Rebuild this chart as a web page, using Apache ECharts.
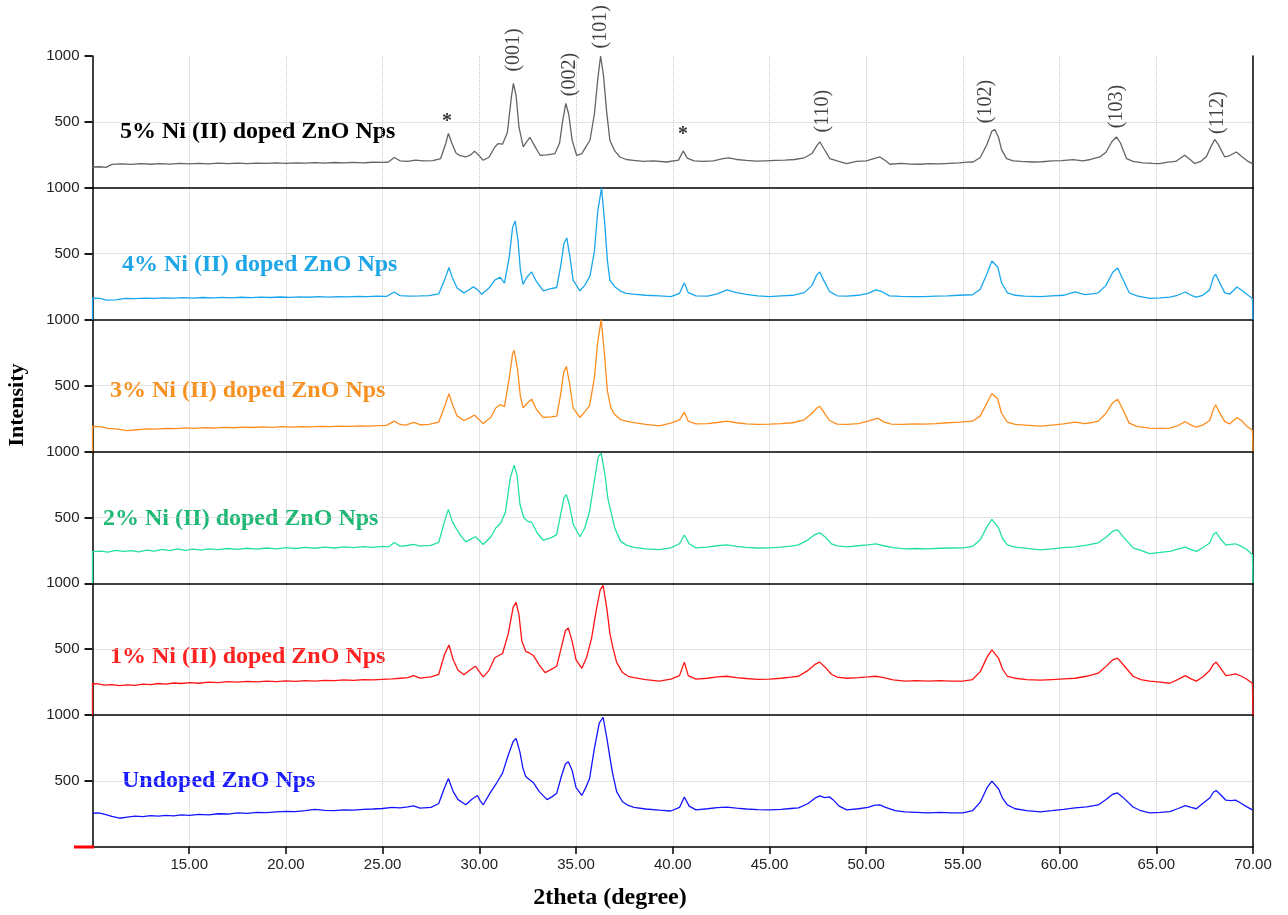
<!DOCTYPE html>
<html>
<head>
<meta charset="utf-8">
<script src="https://cdn.jsdelivr.net/npm/echarts@6/dist/echarts.min.js"></script>
<style>html,body{margin:0;padding:0;background:#fff}#chart{width:1288px;height:915px}</style>
</head>
<body>
<div id="chart"></div>
<script>
// ---------- data (2theta, intensity) ----------
const ni5 = [[10,158],[10.4,160],[10.7,155],[11,178],[11.5,182],[12,178],[12.5,183],[13,179],[13.5,184],[14,180],[14.5,185],[15,181],[15.5,186],[16,182],[16.5,187],[17,183],[17.5,188],[18,184],[18.5,188],[19,185],[19.5,189],[20,186],[20.5,190],[21,187],[21.5,191],[22,188],[22.5,192],[23,189],[23.5,193],[24,190],[24.5,194],[25,193],[25.3,196],[25.6,230],[25.9,205],[26.3,200],[26.7,210],[27.1,204],[27.6,206],[28,222],[28.25,330],[28.4,412],[28.6,330],[28.8,262],[29,244],[29.3,234],[29.55,250],[29.75,278],[29.95,250],[30.2,209],[30.5,232],[30.8,310],[30.98,336],[31.2,331],[31.45,420],[31.65,680],[31.76,792],[31.9,700],[32.05,460],[32.27,310],[32.45,350],[32.62,382],[32.85,320],[33.14,247],[33.5,250],[33.91,260],[34.15,340],[34.3,500],[34.47,640],[34.62,560],[34.8,360],[35.03,247],[35.3,260],[35.55,320],[35.72,361],[35.95,560],[36.12,820],[36.27,1000],[36.42,850],[36.58,580],[36.75,361],[37,280],[37.27,234],[37.6,215],[37.96,209],[38.5,200],[39,205],[39.68,196],[40.3,210],[40.54,280],[40.75,225],[41.1,205],[41.6,200],[42.1,205],[42.6,222],[42.9,228],[43.3,215],[43.8,208],[44.3,202],[44.8,205],[45.3,208],[45.8,210],[46.3,215],[46.8,228],[47.2,260],[47.45,320],[47.61,348],[47.8,300],[48.12,222],[48.5,205],[48.99,184],[49.5,200],[50,205],[50.4,222],[50.71,234],[51,205],[51.23,179],[51.8,185],[52.3,180],[52.78,179],[53.3,184],[53.8,182],[54.3,186],[54.8,190],[55.2,195],[55.53,196],[55.9,230],[56.25,330],[56.5,430],[56.65,442],[56.85,380],[57,290],[57.26,222],[57.6,205],[58,200],[58.63,196],[59.1,198],[59.6,204],[60.1,206],[60.7,214],[61.2,205],[61.6,215],[62.08,234],[62.4,270],[62.7,350],[62.94,386],[63.15,340],[63.46,222],[63.8,200],[64.3,190],[64.8,186],[65.18,184],[65.6,195],[66,200],[66.47,247],[66.75,215],[66.98,184],[67.3,200],[67.6,240],[67.85,320],[68.02,367],[68.2,330],[68.54,234],[68.8,245],[69.14,272],[69.4,240],[69.7,205],[69.97,184]];

const ni4 = [[10,0],[10,164],[10.4,162],[10.7,148],[11.2,150],[11.7,162],[12.2,160],[12.7,164],[13.2,161],[13.7,166],[14.2,163],[14.7,167],[15.2,164],[15.7,168],[16.2,165],[16.7,169],[17.2,166],[17.7,170],[18.2,167],[18.7,171],[19.2,168],[19.7,172],[20.2,169],[20.7,173],[21.2,170],[21.7,174],[22.2,171],[22.7,175],[23.2,173],[23.7,177],[24.2,174],[24.7,178],[25.2,176],[25.6,210],[25.9,182],[26.4,178],[26.93,180],[27.4,182],[27.9,195],[28.2,300],[28.43,395],[28.6,320],[28.85,240],[29.2,203],[29.45,225],[29.69,250],[29.9,228],[30.12,193],[30.5,240],[30.8,300],[31.07,322],[31.3,277],[31.55,480],[31.72,700],[31.85,749],[32,600],[32.12,380],[32.26,267],[32.45,320],[32.7,363],[32.95,290],[33.31,219],[33.7,235],[34,244],[34.2,400],[34.38,580],[34.52,620],[34.68,480],[34.85,300],[35.2,219],[35.45,260],[35.72,331],[35.95,520],[36.12,820],[36.32,1000],[36.5,700],[36.62,450],[36.75,299],[37,250],[37.27,219],[37.6,200],[37.96,193],[38.6,185],[39.34,180],[39.9,174],[40.35,200],[40.6,279],[40.8,205],[41.2,180],[41.8,178],[42.3,195],[42.8,226],[43.3,205],[43.8,192],[44.4,180],[45,174],[45.6,180],[46.2,185],[46.8,205],[47.2,260],[47.45,340],[47.6,362],[47.8,300],[48.1,215],[48.5,181],[49,178],[49.6,185],[50.1,200],[50.5,226],[50.85,210],[51.2,180],[51.8,176],[52.4,174],[53,174],[53.6,178],[54.2,180],[54.8,185],[55.5,189],[55.9,230],[56.25,350],[56.5,445],[56.6,460],[56.8,400],[57,280],[57.3,204],[57.7,185],[58.2,178],[59,174],[59.6,180],[60.2,185],[60.8,211],[61.3,190],[61.7,195],[62,204],[62.4,260],[62.75,360],[63,392],[63.2,330],[63.6,204],[64,180],[64.66,161],[65.2,165],[65.7,171],[66.1,185],[66.5,210],[66.8,185],[67.07,171],[67.4,185],[67.76,226],[67.95,320],[68.07,345],[68.25,290],[68.54,203],[68.8,194],[69.17,248],[69.4,225],[69.66,194],[69.97,161],[70,0]];

const ni3 = [[10,0],[10,190],[10.4,188],[10.8,176],[11.3,170],[11.8,158],[12.3,165],[12.8,172],[13.3,170],[13.8,176],[14.3,174],[14.8,179],[15.3,176],[15.8,181],[16.3,178],[16.8,183],[17.3,180],[17.8,185],[18.3,182],[18.8,186],[19.3,183],[19.8,188],[20.3,185],[20.8,189],[21.3,186],[21.8,191],[22.3,188],[22.8,192],[23.3,190],[23.8,194],[24.3,192],[24.8,196],[25.2,198],[25.6,230],[25.9,205],[26.2,200],[26.6,220],[26.93,203],[27.4,205],[27.9,222],[28.2,340],[28.43,439],[28.6,360],[28.85,270],[29.2,235],[29.5,255],[29.75,277],[30,240],[30.2,213],[30.6,260],[30.85,330],[31.07,355],[31.3,340],[31.55,560],[31.72,740],[31.8,768],[31.98,620],[32.12,420],[32.26,332],[32.5,370],[32.7,397],[32.95,320],[33.3,258],[33.7,262],[34,268],[34.2,430],[34.36,600],[34.5,645],[34.66,520],[34.85,330],[35.2,258],[35.45,300],[35.7,348],[35.95,560],[36.12,830],[36.3,1000],[36.48,720],[36.62,460],[36.8,332],[37,280],[37.3,242],[37.6,230],[38,219],[38.6,205],[39.3,194],[39.9,215],[40.35,240],[40.6,298],[40.8,230],[41.2,210],[41.8,212],[42.3,220],[42.8,230],[43.3,218],[43.8,210],[44.4,205],[45,208],[45.6,212],[46.2,218],[46.8,240],[47.2,290],[47.45,330],[47.6,343],[47.8,300],[48.1,235],[48.5,208],[49,205],[49.6,212],[50.1,230],[50.6,253],[50.9,225],[51.3,208],[51.9,205],[52.5,210],[53,208],[53.6,212],[54.2,218],[54.8,222],[55.5,230],[55.9,270],[56.25,370],[56.5,440],[56.6,449],[56.8,400],[57,290],[57.3,223],[57.7,205],[58.2,200],[59,192],[59.6,200],[60.2,210],[60.8,223],[61.3,212],[61.7,220],[62,230],[62.4,290],[62.75,370],[63,396],[63.2,340],[63.6,215],[64,190],[64.66,177],[65.2,176],[65.7,177],[66.1,195],[66.5,226],[66.8,200],[67.07,184],[67.4,200],[67.76,235],[67.95,320],[68.07,355],[68.25,300],[68.54,226],[68.8,210],[69.17,258],[69.4,235],[69.66,194],[69.97,161],[70,0]];

const ni2 = [[10,0],[10,241],[10.4,244],[10.8,236],[11.2,250],[11.6,242],[12,248],[12.4,238],[12.8,252],[13.2,244],[13.6,258],[14,248],[14.4,262],[14.8,250],[15.2,260],[15.6,252],[16,262],[16.5,256],[17,264],[17.5,258],[18,266],[18.5,260],[19,268],[19.5,262],[20,270],[20.5,264],[21,272],[21.5,266],[22,274],[22.5,268],[23,276],[23.5,270],[24,278],[24.5,272],[25,280],[25.3,276],[25.6,310],[25.9,282],[26.2,285],[26.6,295],[26.93,282],[27.5,288],[27.9,310],[28.2,470],[28.4,561],[28.6,470],[28.8,417],[29.05,360],[29.3,314],[29.55,335],[29.8,353],[30,325],[30.2,295],[30.6,353],[30.85,420],[31.1,455],[31.35,540],[31.6,800],[31.8,897],[31.95,820],[32.1,600],[32.3,497],[32.5,470],[32.7,465],[33,380],[33.3,327],[33.7,345],[34,369],[34.2,520],[34.38,650],[34.5,673],[34.65,600],[34.85,450],[35.2,353],[35.45,420],[35.7,545],[35.95,780],[36.15,960],[36.3,987],[36.5,820],[36.65,640],[36.8,545],[37,420],[37.3,320],[37.6,290],[38,272],[38.6,262],[39.3,256],[39.9,269],[40.35,300],[40.6,367],[40.85,300],[41.2,269],[41.8,275],[42.3,285],[42.8,292],[43.3,280],[43.8,272],[44.4,268],[45,269],[45.6,275],[46.1,282],[46.5,292],[47,330],[47.35,370],[47.6,383],[47.9,350],[48.2,300],[48.5,284],[49,276],[49.6,285],[50.1,292],[50.5,299],[50.9,285],[51.4,270],[52,261],[52.6,264],[53.2,262],[53.8,266],[54.4,268],[55,269],[55.5,280],[55.9,330],[56.25,430],[56.5,485],[56.6,489],[56.85,420],[57.05,340],[57.3,292],[57.7,275],[58.3,265],[59,254],[59.6,262],[60.2,270],[60.8,277],[61.4,290],[62,307],[62.4,350],[62.75,395],[63,405],[63.25,360],[63.8,269],[64.2,250],[64.66,226],[65.2,235],[65.7,242],[66.1,260],[66.5,274],[66.8,255],[67.07,242],[67.4,270],[67.76,306],[67.95,370],[68.1,387],[68.3,340],[68.6,290],[68.85,295],[69.1,300],[69.4,280],[69.66,258],[69.97,216],[70,0]];

const ni1 = [[10,0],[10,240],[10.3,238],[10.6,228],[11,232],[11.4,224],[11.8,230],[12.2,226],[12.6,236],[13,232],[13.4,240],[13.8,236],[14.2,244],[14.6,240],[15,246],[15.5,242],[16,250],[16.5,246],[17,254],[17.5,250],[18,256],[18.5,252],[19,258],[19.5,254],[20,260],[20.5,256],[21,262],[21.5,258],[22,264],[22.5,262],[23,268],[23.5,264],[24,270],[24.5,268],[25,272],[25.5,275],[25.9,280],[26.3,285],[26.6,300],[26.93,281],[27.5,290],[27.9,310],[28.2,460],[28.43,532],[28.65,420],[28.9,340],[29.2,306],[29.5,340],[29.8,371],[30,330],[30.2,290],[30.5,340],[30.8,435],[31.2,468],[31.5,620],[31.75,820],[31.9,855],[32.05,760],[32.2,560],[32.4,484],[32.6,470],[32.8,452],[33.1,380],[33.4,323],[33.7,345],[34,371],[34.25,520],[34.45,640],[34.6,661],[34.8,560],[35,420],[35.3,355],[35.55,440],[35.8,581],[36.05,800],[36.25,950],[36.4,984],[36.6,800],[36.75,620],[36.9,516],[37.1,400],[37.4,323],[37.7,295],[38,284],[38.6,270],[39.3,258],[39.9,273],[40.35,300],[40.6,402],[40.8,300],[41.2,273],[41.8,280],[42.3,290],[42.8,295],[43.3,285],[43.8,278],[44.4,272],[45,273],[45.6,280],[46.1,288],[46.5,295],[47,340],[47.35,385],[47.6,402],[47.9,360],[48.2,310],[48.5,288],[49,280],[49.6,285],[50.1,290],[50.5,295],[50.9,285],[51.4,268],[52,258],[52.6,262],[53.2,258],[53.8,262],[54.4,258],[55,258],[55.5,270],[55.9,330],[56.25,440],[56.5,495],[56.6,500],[56.85,430],[57.05,350],[57.3,295],[57.7,280],[58.3,270],[59,265],[59.6,270],[60.2,275],[60.8,280],[61.4,295],[62,318],[62.4,370],[62.75,420],[63,432],[63.25,390],[63.8,295],[64.2,270],[64.66,258],[65.2,250],[65.7,242],[66.1,270],[66.5,300],[66.8,275],[67.07,258],[67.4,290],[67.76,339],[67.95,385],[68.1,403],[68.3,360],[68.6,300],[68.85,305],[69.1,313],[69.4,295],[69.66,274],[69.97,242],[70,0]];

const undoped = [[10,256],[10.3,258],[10.6,250],[11,232],[11.4,218],[11.8,226],[12.2,234],[12.6,230],[13,238],[13.4,234],[13.8,240],[14.2,236],[14.6,244],[15,240],[15.5,248],[16,244],[16.5,252],[17,250],[17.5,258],[18,255],[18.5,262],[19,260],[19.5,266],[20,270],[20.5,268],[21,276],[21.5,285],[22,278],[22.5,276],[23,282],[23.5,280],[24,286],[24.5,288],[25,292],[25.5,300],[25.9,296],[26.3,305],[26.6,312],[26.93,295],[27.5,301],[27.9,330],[28.2,450],[28.4,519],[28.65,420],[28.9,359],[29.3,320],[29.6,360],[29.9,391],[30.05,350],[30.2,320],[30.6,420],[30.9,487],[31.2,560],[31.5,700],[31.75,800],[31.9,824],[32.1,720],[32.25,600],[32.4,535],[32.6,510],[32.8,487],[33.1,420],[33.5,359],[33.75,380],[34,407],[34.25,540],[34.45,630],[34.6,647],[34.8,580],[35,450],[35.3,391],[35.5,450],[35.7,519],[35.95,750],[36.2,940],[36.4,984],[36.6,820],[36.75,680],[36.9,551],[37.1,420],[37.4,343],[37.7,315],[38,301],[38.6,288],[39.3,279],[39.9,273],[40.35,300],[40.6,379],[40.85,310],[41.2,281],[41.8,290],[42.3,298],[42.8,303],[43.3,295],[43.8,288],[44.4,283],[45,281],[45.6,286],[46.1,292],[46.5,296],[47,330],[47.35,370],[47.6,387],[47.85,375],[48.1,380],[48.3,357],[48.6,310],[49,281],[49.6,290],[50.1,300],[50.4,315],[50.7,319],[51,300],[51.5,275],[52,266],[52.6,262],[53.2,258],[53.8,262],[54.4,258],[55,258],[55.5,275],[55.9,340],[56.25,450],[56.5,500],[56.6,508],[56.85,440],[57.05,370],[57.3,319],[57.7,290],[58.3,275],[59,266],[59.6,275],[60.2,285],[60.8,296],[61.4,305],[62,319],[62.4,360],[62.75,400],[63,410],[63.25,380],[63.8,303],[64.2,275],[64.66,258],[65.2,262],[65.7,268],[66.1,290],[66.5,313],[66.8,300],[67.07,290],[67.4,330],[67.76,371],[67.95,415],[68.1,429],[68.3,400],[68.6,355],[68.85,352],[69.1,355],[69.4,330],[69.66,306],[69.97,281]];

const seriesNames = ['5% Ni (II) doped ZnO Nps','4% Ni (II) doped ZnO Nps','3% Ni (II) doped ZnO Nps','2% Ni (II) doped ZnO Nps','1% Ni (II) doped ZnO Nps','Undoped ZnO Nps'];
const seriesData = [ni5, ni4, ni3, ni2, ni1, undoped];

// peak annotations (top panel): label, 2theta, intensity position
const peakLabels = ['(001)','(002)','(101)','(110)','(102)','(103)','(112)'];
const peakX = [31.76, 34.65, 36.27, 47.75, 56.2, 62.94, 68.2];
const peakY = [1046, 859, 1221, 582, 654, 616, 570];
const starX = [28.33, 40.53];
const starY = [498, 399];

const xTicks = [10, 70, 5];       // min, max, interval
const yTicks = [0, 1000, 500];

// ---------- styling / layout ----------
const lineColors = ['#646464','#1aa6ec','#ff8c1f','#22e29b','#ff1414','#1414ff'];
const textColors = ['#000000','#1ea6e6','#f7901e','#1db873','#ff2020','#1a1aff'];
const labelPos = [[120,132],[122,265],[110,391],[103,519],[110,657],[122,781]];
const gTop = 56, gH = 131.83, gLeft = 92.5, gRight = 35;
const serif = '"Liberation Serif", "Times New Roman", serif';

const grids = [], xAxes = [], yAxes = [], series = [], graphics = [];
for (let i = 0; i < 6; i++) {
  const last = i === 5;
  grids.push({left: gLeft, right: gRight, top: gTop + i * gH, height: gH});
  xAxes.push({
    type: 'value', gridIndex: i, min: xTicks[0], max: xTicks[1], interval: xTicks[2],
    axisLine: {show: true, lineStyle: {color: '#000', width: 1.5}},
    axisTick: {show: last, length: 7, lineStyle: {color: '#000', width: 1.5}},
    axisLabel: {show: last, showMinLabel: false, margin: 10, fontSize: 15, color: '#222',
      fontFamily: 'Liberation Sans, Arial', formatter: v => v.toFixed(2)},
    splitLine: {show: true, showMinLine: false, showMaxLine: false, lineStyle: {type: 'dotted', color: '#c8c8c8'}}
  });
  yAxes.push({
    type: 'value', gridIndex: i, min: yTicks[0], max: yTicks[1], interval: yTicks[2],
    axisLine: {show: true, lineStyle: {color: '#000', width: 1.5}},
    axisTick: {show: true, length: 8, lineStyle: {color: '#000', width: 1.8}},
    axisLabel: {showMinLabel: false, margin: 13, fontSize: 15, color: '#222', fontFamily: 'Liberation Sans, Arial',
      formatter: v => String(v)},
    splitLine: {show: true, showMinLine: false, showMaxLine: false, lineStyle: {type: 'dotted', color: '#c8c8c8'}}
  });
  yAxes.push({
    type: 'value', gridIndex: i, position: 'right', min: yTicks[0], max: yTicks[1],
    axisLine: {show: true, lineStyle: {color: '#000', width: 1.5}},
    axisTick: {show: false}, axisLabel: {show: false}, splitLine: {show: false}
  });
  series.push({
    type: 'line', name: seriesNames[i], xAxisIndex: i, yAxisIndex: i * 2,
    data: seriesData[i], showSymbol: false, symbol: 'none', smooth: false,
    lineStyle: {color: lineColors[i], width: 1.3}, clip: true, z: 3
  });
  graphics.push({
    type: 'text', x: labelPos[i][0], y: labelPos[i][1],
    style: {text: seriesNames[i], fill: textColors[i], font: 'bold 24px ' + serif, verticalAlign: 'middle'}
  });
}

// peak hkl labels + asterisks on the top panel
series.push({
  type: 'scatter', xAxisIndex: 0, yAxisIndex: 0, clip: false, symbolSize: 1, z: 5,
  itemStyle: {color: 'rgba(0,0,0,0)'},
  data: peakLabels.map((t, k) => ({value: [peakX[k], peakY[k]], name: t})),
  label: {show: true, position: 'inside', rotate: 90, align: 'center', verticalAlign: 'middle',
    formatter: p => p.name, fontSize: 20, color: '#111', fontFamily: serif}
});
series.push({
  type: 'scatter', xAxisIndex: 0, yAxisIndex: 0, clip: false, symbolSize: 1, z: 5,
  itemStyle: {color: 'rgba(0,0,0,0)'},
  data: starX.map((x, k) => [x, starY[k]]),
  label: {show: true, position: 'inside', formatter: '*', fontSize: 20, fontWeight: 'bold', color: '#000', fontFamily: serif}
});

graphics.push({
  type: 'text', x: 17, y: 405, rotation: Math.PI / 2,
  style: {text: 'Intensity', fill: '#000', font: 'bold 22px ' + serif, align: 'center', verticalAlign: 'middle'}
});
graphics.push({
  type: 'text', x: 610, y: 898,
  style: {text: '2theta (degree)', fill: '#000', font: 'bold 24px ' + serif, align: 'center', verticalAlign: 'middle'}
});
graphics.push({type: 'rect', shape: {x: 74, y: 845.5, width: 20, height: 3}, style: {fill: '#ff0000'}, z: 10});

const chart = echarts.init(document.getElementById('chart'), null, {renderer: 'canvas'});
chart.setOption({
  animation: false,
  backgroundColor: '#fff',
  grid: grids, xAxis: xAxes, yAxis: yAxes, series: series, graphic: graphics
});
</script>
</body>
</html>
